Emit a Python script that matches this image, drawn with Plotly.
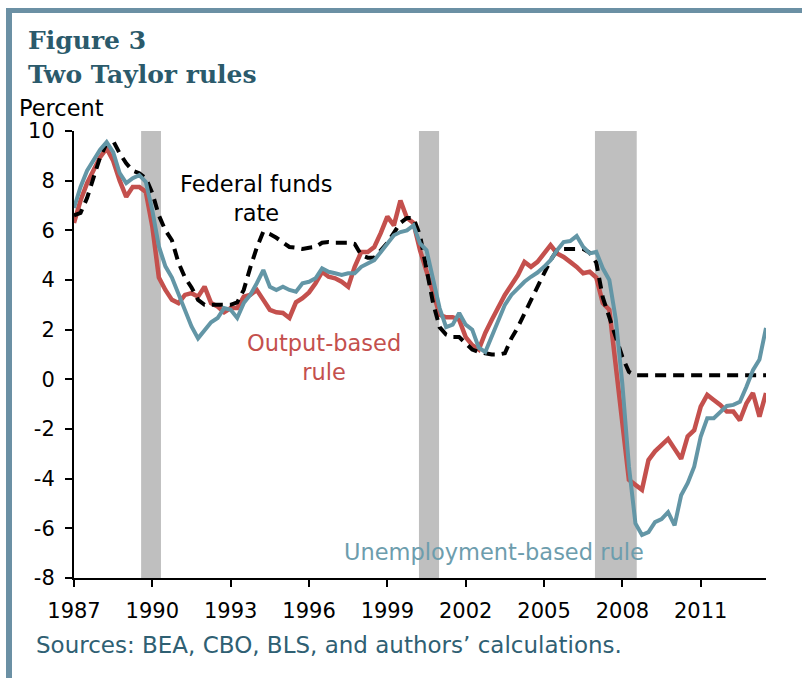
import plotly.graph_objects as go

# Quarterly observations, first quarter shown at the 1987 tick
start_year = 1987
n_quarters = 107
quarters = [start_year + 0.25 * i for i in range(n_quarters)]

fed_funds = [
    6.6, 6.7, 7.3, 8.15, 8.95, 9.5, 9.6, 9.1, 8.7, 8.4, 8.3, 8.1,
    7.5, 6.6, 6.0, 5.6, 4.7, 4.1, 3.7, 3.2, 3.0, 3.0, 3.0, 3.0,
    3.0, 3.1, 3.6, 4.5, 5.3, 5.95, 5.85, 5.7, 5.5, 5.33, 5.3, 5.25,
    5.3, 5.33, 5.5, 5.53, 5.5, 5.5, 5.5, 5.45, 5.0, 4.9, 4.9, 5.2,
    5.5, 5.9, 6.3, 6.5, 6.5, 5.8, 4.4, 3.07, 2.1, 1.8, 1.7, 1.7,
    1.45, 1.2, 1.1, 1.05, 1.0, 1.0, 1.05, 1.65, 2.1, 2.65, 3.2, 3.7,
    4.25, 4.8, 5.2, 5.25, 5.25, 5.25, 5.25, 5.1, 4.7, 3.3, 2.45, 1.7,
    0.9, 0.3, 0.16, 0.16, 0.16, 0.16, 0.16, 0.16, 0.16, 0.16, 0.16, 0.16,
    0.16, 0.16, 0.16, 0.16, 0.16, 0.16, 0.16, 0.16, 0.16, 0.16, 0.16,
]

output_rule = [
    6.3, 7.2, 7.9, 8.4, 8.95, 9.3, 8.8, 8.0, 7.35, 7.75, 7.75, 7.55,
    6.15, 4.1, 3.6, 3.2, 3.07, 3.4, 3.47, 3.33, 3.73, 3.07, 2.93, 2.7,
    2.87, 2.87, 3.33, 3.4, 3.6, 3.2, 2.8, 2.7, 2.67, 2.47, 3.1, 3.27,
    3.5, 3.87, 4.33, 4.13, 4.07, 3.93, 3.73, 4.53, 5.13, 5.13, 5.33, 5.9,
    6.55, 6.2, 7.2, 6.5, 6.3, 5.2, 4.4, 3.5, 2.6, 2.5, 2.5, 2.4,
    1.7, 1.38, 1.2, 1.87, 2.4, 2.93, 3.4, 3.8, 4.2, 4.73, 4.53, 4.73,
    5.07, 5.4, 5.07, 4.93, 4.73, 4.53, 4.27, 4.33, 4.1, 3.07, 2.8, 0.6,
    -1.5, -4.05, -4.25, -4.45, -3.25, -2.9, -2.65, -2.4, -2.8, -3.2, -2.3, -2.05,
    -1.1, -0.63, -0.83, -1.03, -1.3, -1.3, -1.65, -0.97, -0.55, -1.5, -0.55,
]

unemployment_rule = [
    6.9, 7.75, 8.4, 8.85, 9.25, 9.55, 9.15, 8.3, 7.9, 8.1, 8.22, 7.95,
    6.8, 5.35, 4.55, 4.1, 3.47, 2.8, 2.13, 1.65, 2.0, 2.3, 2.47, 2.87,
    2.8, 2.47, 3.07, 3.4, 3.87, 4.4, 3.73, 3.6, 3.73, 3.6, 3.53, 3.87,
    3.93, 4.07, 4.47, 4.33, 4.27, 4.2, 4.27, 4.27, 4.53, 4.67, 4.8, 5.13,
    5.47, 5.8, 5.93, 6.0, 6.2, 5.47, 5.2, 4.0, 2.87, 2.1, 2.2, 2.67,
    2.2, 2.0, 1.27, 1.1, 1.7, 2.4, 3.0, 3.4, 3.67, 3.93, 4.13, 4.3,
    4.53, 4.8, 5.2, 5.53, 5.57, 5.77, 5.33, 5.07, 5.13, 4.47, 4.0, 2.4,
    -0.2, -3.5, -5.8, -6.27, -6.15, -5.75, -5.63, -5.35, -5.88, -4.67, -4.18, -3.52,
    -2.3, -1.57, -1.57, -1.3, -1.07, -1.03, -0.9, -0.3, 0.37, 0.8, 2.07,
]

# Recession shading (axis units, as placed on the chart)
recession_start = [1989.57, 2000.21, 2006.95]
recession_end = [1990.33, 2000.98, 2008.55]

tick_years = [1987, 1990, 1993, 1996, 1999, 2002, 2005, 2008, 2011]
tick_labels = [str(y) for y in tick_years]
y_ticks = [-8, -6, -4, -2, 0, 2, 4, 6, 8, 10]
y_tick_labels = ["-8", "-6", "-4", "-2", "0", "2", "4", "6", "8", "10"]

RED = "#c4504d"
TEAL = "#6396a6"
TEAL_TEXT = "#6d9dad"
DARK_TEAL = "#2b5a6b"
FRAME = "#6b90a4"
SANS = "DejaVu Sans, Verdana, sans-serif"

fig = go.Figure()

fig.add_trace(go.Scatter(x=quarters, y=output_rule, mode="lines",
                         line=dict(color=RED, width=4.5), name="Output-based rule"))
fig.add_trace(go.Scatter(x=quarters, y=fed_funds, mode="lines",
                         line=dict(color="black", width=4, dash="11px,7px"),
                         name="Federal funds rate"))
fig.add_trace(go.Scatter(x=quarters, y=unemployment_rule, mode="lines",
                         line=dict(color=TEAL, width=4), name="Unemployment-based rule"))

shapes = []
for s, e in zip(recession_start, recession_end):
    shapes.append(dict(type="rect", xref="x", yref="paper", x0=s, x1=e, y0=0, y1=1,
                       fillcolor="#bfbfbf", line=dict(width=0), layer="below"))

# frame bars (top and left) in paper coordinates of the 692x447 plot area
L, T, W, H = 74, 131, 692, 447


def px(xp):
    return (xp - L) / W


def py(yp):
    return (T + H - yp) / H


shapes.append(dict(type="rect", xref="paper", yref="paper", x0=px(6), x1=px(12),
                   y0=py(678), y1=py(8), fillcolor=FRAME, line=dict(width=0), layer="above"))
shapes.append(dict(type="rect", xref="paper", yref="paper", x0=px(6), x1=px(802),
                   y0=py(13), y1=py(8), fillcolor=FRAME, line=dict(width=0), layer="above"))

ANN = 22.5
annotations = [
    dict(text="<b>Figure 3</b>", x=px(26), y=py(40), xanchor="left", yanchor="middle",
         font=dict(family="DejaVu Serif, serif", size=25, color=DARK_TEAL)),
    dict(text="<b>Two Taylor rules</b>", x=px(26), y=py(74), xanchor="left", yanchor="middle",
         font=dict(family="DejaVu Serif, serif", size=25, color=DARK_TEAL)),
    dict(text="Percent", x=px(17), y=py(108), xanchor="left", yanchor="middle",
         font=dict(family=SANS, size=ANN, color="black")),
    dict(text="Federal funds<br>rate", x=px(256), y=py(198), xanchor="center", yanchor="middle",
         align="center", font=dict(family=SANS, size=ANN, color="black")),
    dict(text="Output-based<br>rule", x=px(324), y=py(357), xanchor="center", yanchor="middle",
         align="center", font=dict(family=SANS, size=ANN, color=RED)),
    dict(text="Unemployment-based rule", x=px(494), y=py(552), xanchor="center", yanchor="middle",
         font=dict(family=SANS, size=ANN, color=TEAL_TEXT)),
    dict(text="Sources: BEA, CBO, BLS, and authors\u2019 calculations.", x=px(34), y=py(645),
         xanchor="left", yanchor="middle", font=dict(family=SANS, size=23, color="#2f6073")),
]
for a in annotations:
    a.update(xref="paper", yref="paper", showarrow=False)

fig.update_layout(
    width=802, height=678,
    margin=dict(l=L, r=802 - L - W, t=T, b=678 - T - H, autoexpand=False),
    paper_bgcolor="white", plot_bgcolor="white",
    showlegend=False,
    shapes=shapes, annotations=annotations,
    font=dict(family=SANS, size=20, color="black"),
    xaxis=dict(range=[1987, 2013.5], tickvals=tick_years, ticktext=tick_labels,
               automargin=False,
               showgrid=False, zeroline=False, showline=True, linecolor="black", linewidth=2,
               ticks="outside", ticklen=7, tickwidth=1.5, tickcolor="black",
               tickfont=dict(family=SANS, size=21, color="black"), ticklabelstandoff=6),
    yaxis=dict(range=[-8, 10], tickvals=y_ticks, ticktext=y_tick_labels,
               showgrid=False, zeroline=False,
               automargin=False,
               showline=True, linecolor="black", linewidth=2,
               ticks="outside", ticklen=7, tickwidth=1.5, tickcolor="black",
               tickfont=dict(family=SANS, size=21, color="black"), ticklabelstandoff=6),
)

# remove the page's default body margin so the figure sits at the window's corner
fig.write_html(
    "out.html",
    config={"displayModeBar": False},
    post_script="document.body.style.margin='0';document.body.style.overflow='hidden';",
)
